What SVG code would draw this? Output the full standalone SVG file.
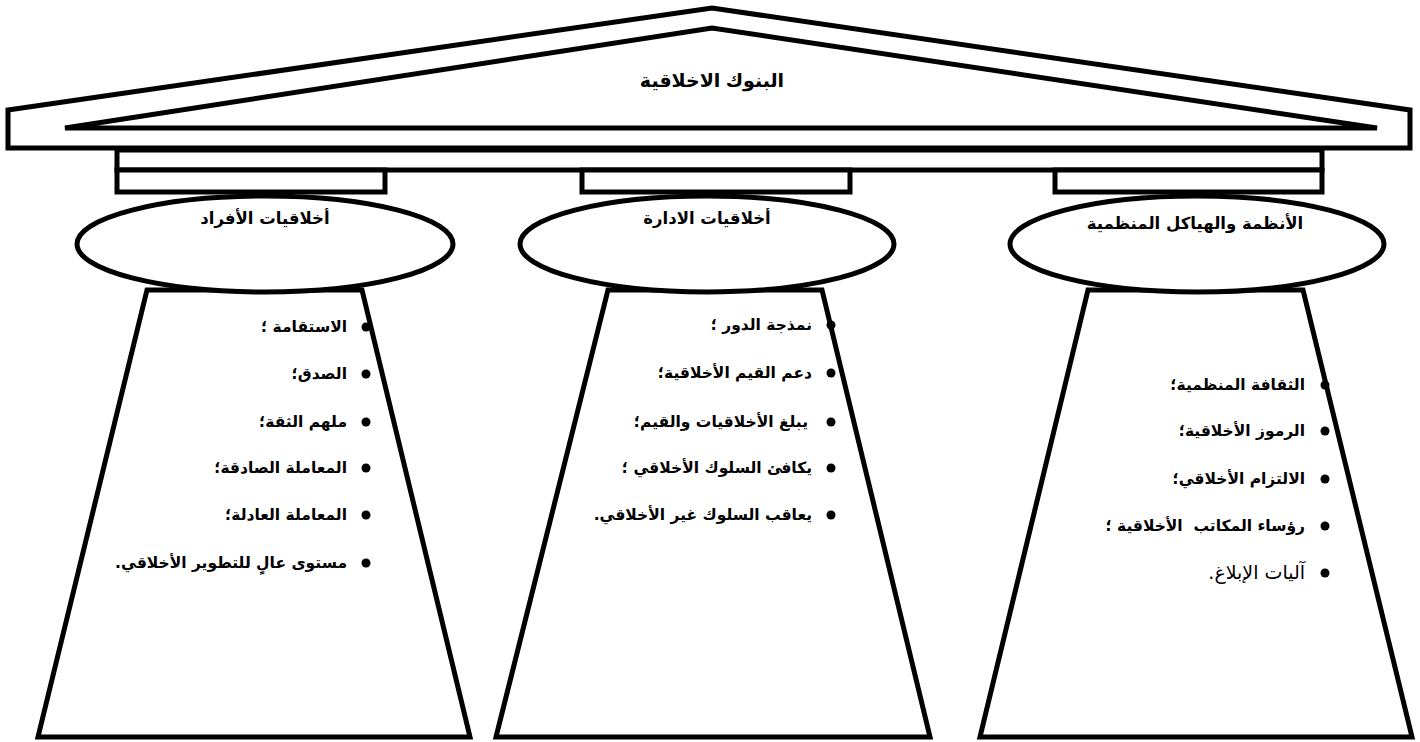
<svg xmlns="http://www.w3.org/2000/svg" width="1420" height="742" viewBox="0 0 1420 742">
<style>
.s{fill:#fff;stroke:#000;stroke-width:5;stroke-linejoin:miter}
.t{font-family:"DejaVu Sans",sans-serif;font-size:15.5px;font-weight:bold;fill:#000}
.h{font-family:"DejaVu Sans",sans-serif;font-size:16.5px;font-weight:bold;fill:#000}
.r{font-family:"Liberation Sans","DejaVu Sans",sans-serif;font-size:19px;font-weight:bold;fill:#000}
.n{font-family:"DejaVu Sans",sans-serif;font-size:19px;font-weight:normal;fill:#000}
</style>
<rect width="1420" height="742" fill="#fff"/>
<g id="roof">
<polygon class="s" points="8,110 712,8 1410,110 1410,148 8,148"/>
<polygon class="s" points="65,128 712,28 1377,128"/>
<text class="r" x="712" y="87" text-anchor="middle" direction="rtl">البنوك الاخلاقية</text>
</g>
<g id="architrave">
<rect class="s" x="117" y="150" width="1205" height="20" stroke-width="4"/>
<rect class="s" x="117" y="170" width="268" height="22" stroke-width="4"/>
<rect class="s" x="582" y="170" width="268" height="22" stroke-width="4"/>
<rect class="s" x="1055" y="170" width="267" height="22" stroke-width="4"/>
</g>
<g id="connectors"></g>
<g id="pillar-individuals">
<polygon class="s" points="147,290 362,290 470,737 38,737"/>
<ellipse class="s" cx="265" cy="244" rx="188" ry="48"/>
<text class="h" x="265" y="224" text-anchor="middle" direction="rtl">أخلاقيات الأفراد</text>
<g>
<circle cx="366" cy="327" r="4.5"/><text class="t" x="347" y="332" direction="rtl" text-anchor="start">الاستقامة ؛</text>
<circle cx="366" cy="374" r="4.5"/><text class="t" x="347" y="379" direction="rtl" text-anchor="start">الصدق؛</text>
<circle cx="366" cy="422" r="4.5"/><text class="t" x="347" y="427" direction="rtl" text-anchor="start">ملهم الثقة؛</text>
<circle cx="366" cy="468" r="4.5"/><text class="t" x="347" y="473" direction="rtl" text-anchor="start">المعاملة الصادقة؛</text>
<circle cx="366" cy="515" r="4.5"/><text class="t" x="347" y="520" direction="rtl" text-anchor="start">المعاملة العادلة؛</text>
<circle cx="366" cy="563" r="4.5"/><text class="t" x="347" y="568" direction="rtl" text-anchor="start">مستوى عالٍ للتطوير الأخلاقي.</text>
</g>
</g>
<g id="pillar-management">
<polygon class="s" points="608,290 822,290 930,737 496,737"/>
<ellipse class="s" cx="707" cy="244" rx="187" ry="48"/>
<text class="h" x="707" y="224" text-anchor="middle" direction="rtl">أخلاقيات الادارة</text>
<g>
<circle cx="831" cy="325" r="4.5"/><text class="t" x="812" y="330" direction="rtl" text-anchor="start">نمذجة الدور ؛</text>
<circle cx="831" cy="373" r="4.5"/><text class="t" x="812" y="378" direction="rtl" text-anchor="start">دعم القيم الأخلاقية؛</text>
<circle cx="831" cy="422" r="4.5"/><text class="t" x="808" y="427" direction="rtl" text-anchor="start">يبلغ الأخلاقيات والقيم؛</text>
<circle cx="831" cy="468" r="4.5"/><text class="t" x="812" y="473" direction="rtl" text-anchor="start">يكافئ السلوك الأخلاقي ؛</text>
<circle cx="831" cy="515" r="4.5"/><text class="t" x="812" y="520" direction="rtl" text-anchor="start">يعاقب السلوك غير الأخلاقي.</text>
</g>
</g>
<g id="pillar-systems">
<polygon class="s" points="1088,290 1303,290 1412,737 980,737"/>
<ellipse class="s" cx="1197" cy="244" rx="187" ry="48"/>
<text class="h" x="1195" y="229" text-anchor="middle" direction="rtl">الأنظمة والهياكل المنظمية</text>
<g>
<circle cx="1325" cy="385" r="4.5"/><text class="t" x="1305" y="390" direction="rtl" text-anchor="start">الثقافة المنظمية؛</text>
<circle cx="1325" cy="431" r="4.5"/><text class="t" x="1305" y="436" direction="rtl" text-anchor="start">الرموز الأخلاقية؛</text>
<circle cx="1325" cy="479" r="4.5"/><text class="t" x="1305" y="484" direction="rtl" text-anchor="start">الالتزام الأخلاقي؛</text>
<circle cx="1325" cy="526" r="4.5"/><text class="t" x="1305" y="531" direction="rtl" text-anchor="start" xml:space="preserve">رؤساء المكاتب  الأخلاقية ؛</text>
<circle cx="1325" cy="573" r="4.5"/><text class="n" x="1305" y="579" direction="rtl" text-anchor="start">آليات الإبلاغ.</text>
</g>
</g>
</svg>
